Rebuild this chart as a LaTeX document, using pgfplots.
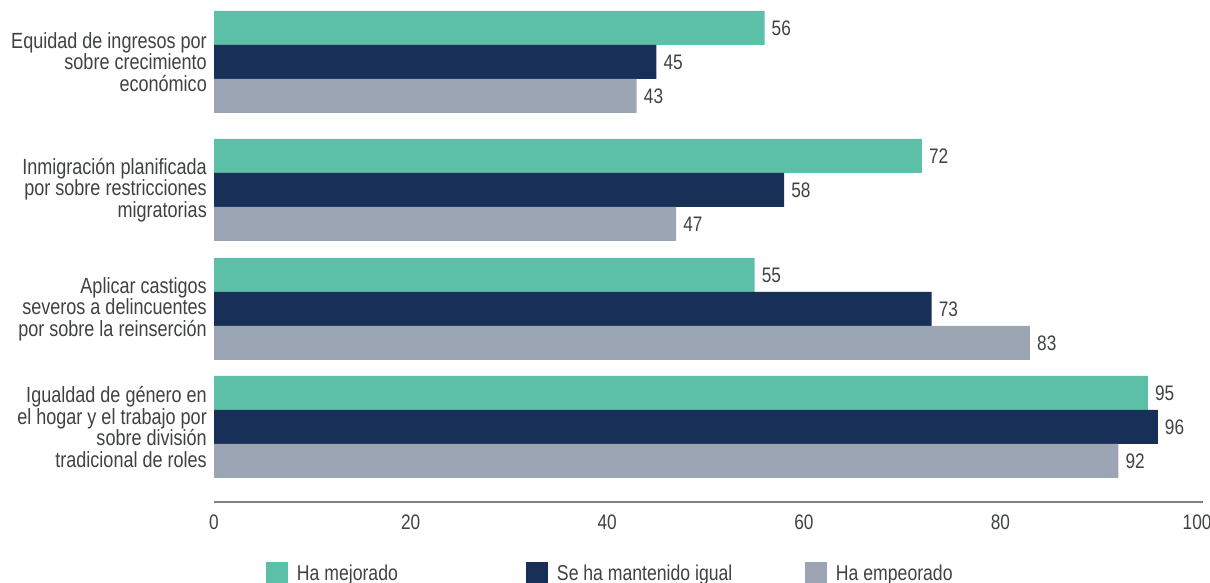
\documentclass[border=0pt]{standalone}
\usepackage{fontspec}
\setmainfont{Liberation Sans}[FakeStretch=0.82]
\usepackage{pgfplots}
\pgfplotsset{compat=1.18}
\definecolor{cgreen}{HTML}{5BC0A7}
\definecolor{cnavy}{HTML}{183058}
\definecolor{cgray}{HTML}{9CA5B4}
\definecolor{ctext}{HTML}{3F4242}
\definecolor{cline}{HTML}{7F7F7F}
\begin{document}
\begin{tikzpicture}
\useasboundingbox (0,0) rectangle (1210pt,583pt);
\begin{axis}[
  at={(214pt,81pt)}, anchor=south west,
  scale only axis, width=989pt, height=502pt,
  xmin=0, xmax=100.6, ymin=0, ymax=502,
  axis x line*=bottom, axis y line*=left,
  x axis line style={draw=cline, line width=1.2pt, -},
  y axis line style={draw=none},
  xtick={0,20,40,60,80,100},
  major tick length=0pt,
  tick style={draw=none},
  /pgf/number format/assume math mode=true,
  xticklabel style={font=\fontsize{21}{21}\selectfont, text=ctext, inner sep=0pt, yshift=-13pt},
  ytick={75,193,312,440},
  yticklabels={{Igualdad de género en\\el hogar y el trabajo por\\sobre división\\tradicional de roles},
               {Aplicar castigos\\severos a delincuentes\\por sobre la reinserción},
               {Inmigración planificada\\por sobre restricciones\\migratorias},
               {Equidad de ingresos por\\sobre crecimiento\\económico}},
  yticklabel style={font=\fontsize{22}{21.5}\selectfont, text=ctext, align=right, inner sep=0pt, xshift=-7pt},
  xbar, bar width=34pt,
  nodes near coords, nodes near coords align=horizontal,
  every node near coord/.append style={font=\fontsize{21}{21}\selectfont, text=ctext, inner sep=0pt, anchor=west, xshift=7pt},
  legend columns=3,
  legend image code/.code={\fill[#1] (0pt,-11pt) rectangle (22pt,11pt);},
  legend style={at={(0,0)}, anchor=north west, xshift=52pt, yshift=-60pt, draw=none, fill=none,
    inner sep=0pt, outer sep=0pt, font=\fontsize{21.5}{21.5}\selectfont, text=ctext,
    nodes={inner sep=0pt},
    /tikz/every odd column/.append style={column sep=9pt},
    /tikz/every even column/.append style={column sep=0pt}},
]
\addplot[fill=cgreen, draw=none, bar shift=34pt] coordinates {(95,75) (55,193) (72,312) (56,440)};
\addplot[fill=cnavy, draw=none, bar shift=0pt] coordinates {(96,75) (73,193) (58,312) (45,440)};
\addplot[fill=cgray, draw=none, bar shift=-34pt] coordinates {(92,75) (83,193) (47,312) (43,440)};
\legend{\makebox[229pt][l]{Ha mejorado},\makebox[248pt][l]{Se ha mantenido igual},Ha empeorado}
\end{axis}
\end{tikzpicture}
\end{document}
